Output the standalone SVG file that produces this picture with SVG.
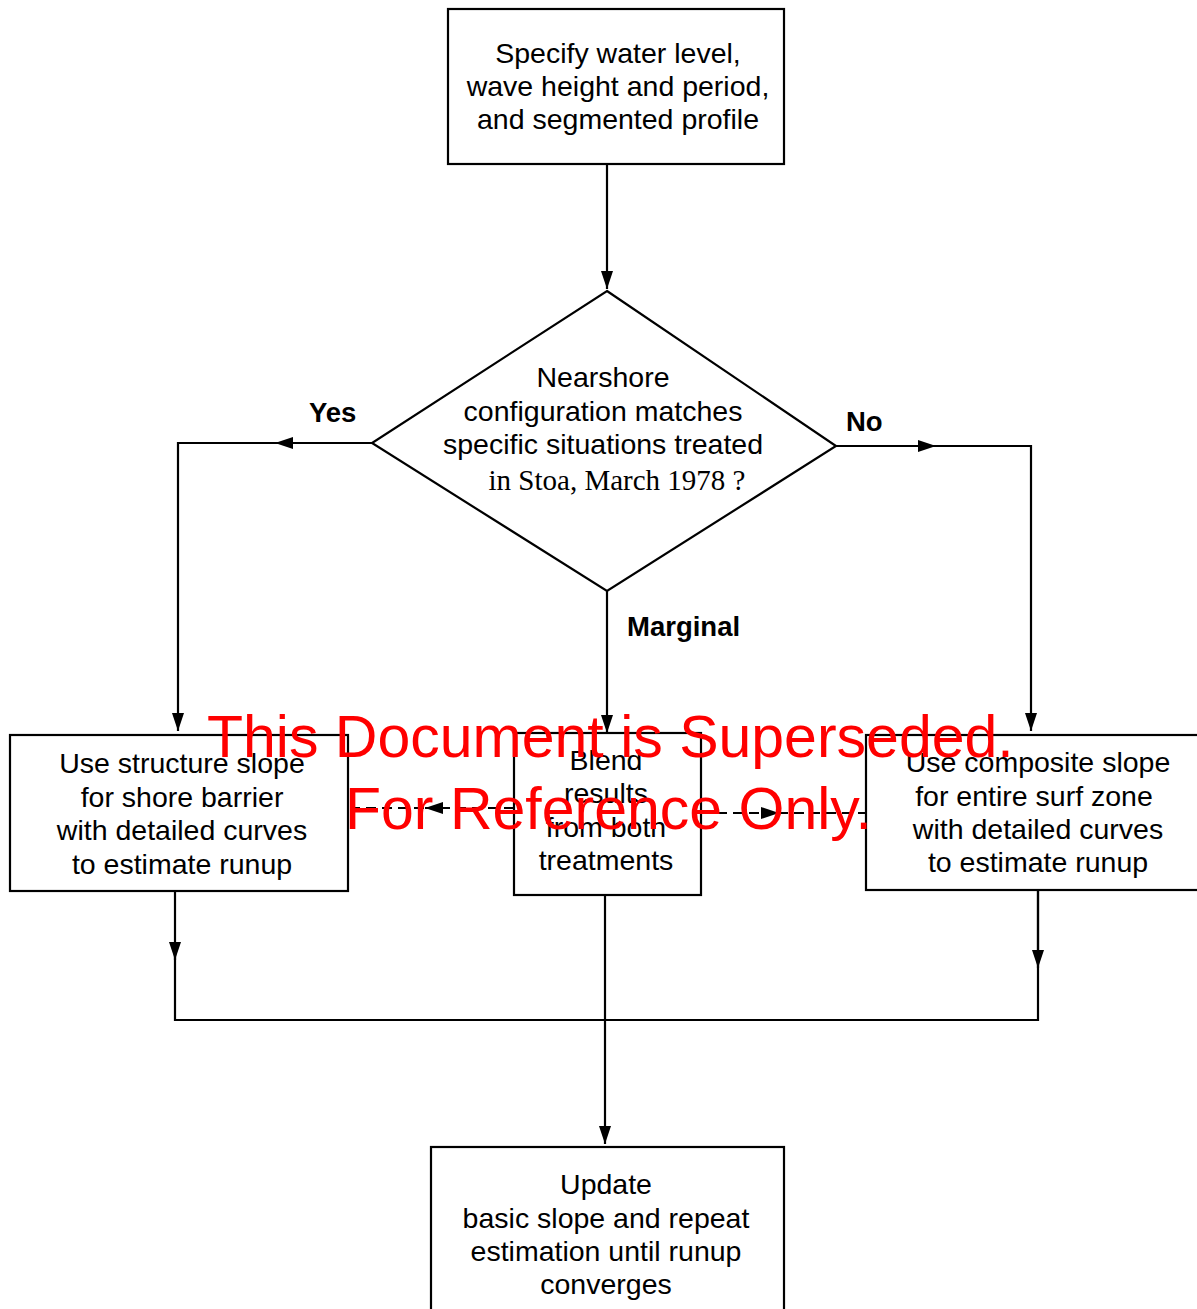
<svg xmlns="http://www.w3.org/2000/svg" width="1197" height="1309" viewBox="0 0 1197 1309">
<style>
.box{fill:#fff;stroke:#000;stroke-width:2.2}
.t{font-family:"Liberation Sans",Arial,sans-serif;font-size:28.5px;fill:#000;text-anchor:middle}
.tm{font-family:"Liberation Serif","Times New Roman",serif;font-size:29px;fill:#000;text-anchor:middle}
.lb{font-family:"Liberation Sans",Arial,sans-serif;font-size:27.5px;font-weight:bold;fill:#000}
.c{fill:none;stroke:#000;stroke-width:2.2}
.d{fill:none;stroke:#000;stroke-width:2.2;stroke-dasharray:10,6}
.wm{font-family:"Liberation Sans",Arial,sans-serif;font-size:59px;fill:#ff0000}
</style>
<defs>
<marker id="ah" viewBox="0 0 18 12" refX="18" refY="6" markerWidth="18" markerHeight="12" orient="auto" markerUnits="userSpaceOnUse"><path d="M0,0 L18,6 L0,12 z" fill="#000"/></marker>
</defs>
<rect width="1197" height="1309" fill="#fff"/>
<g id="connectors">
<path class="c" d="M607,164 V289" marker-end="url(#ah)"/>
<path class="c" d="M372,443 H275" marker-end="url(#ah)"/>
<path class="c" d="M290,443 H178 V731" marker-end="url(#ah)"/>
<path class="c" d="M836,446 H936" marker-end="url(#ah)"/>
<path class="c" d="M920,446 H1031 V731" marker-end="url(#ah)"/>
<path class="c" d="M607,591 V733" marker-end="url(#ah)"/>
<path class="d" d="M514,808 H425" marker-end="url(#ah)"/>
<path class="d" d="M440,808 H348"/>
<path class="d" d="M701,813 H779" marker-end="url(#ah)"/>
<path class="d" d="M762,813 H866"/>
<path class="c" d="M175,891 V960" marker-end="url(#ah)"/>
<path class="c" d="M175,945 V1020 H1038 V891"/>
<path class="c" d="M1038,891 V968" marker-end="url(#ah)"/>
<path class="c" d="M605,895 V1144" marker-end="url(#ah)"/>
</g>
<g id="start">
<rect class="box" x="448" y="9" width="336" height="155"/>
<text class="t" x="618" y="63">Specify water level,</text>
<text class="t" x="618" y="96">wave height and period,</text>
<text class="t" x="618" y="129">and segmented profile</text>
</g>
<g id="decision">
<polygon class="box" points="607,291 836,446 607,591 372,443"/>
<text class="t" x="603" y="387">Nearshore</text>
<text class="t" x="603" y="421">configuration matches</text>
<text class="t" x="603" y="454">specific situations treated</text>
<text class="tm" x="617" y="490">in Stoa, March 1978 ?</text>
</g>
<g id="labels">
<text class="lb" x="309" y="422">Yes</text>
<text class="lb" x="846" y="431">No</text>
<text class="lb" x="627" y="636">Marginal</text>
</g>
<g id="structure">
<rect class="box" x="10" y="735" width="338" height="156"/>
<text class="t" x="182" y="773">Use structure slope</text>
<text class="t" x="182" y="807">for shore barrier</text>
<text class="t" x="182" y="840">with detailed curves</text>
<text class="t" x="182" y="874">to estimate runup</text>
</g>
<g id="blend">
<rect class="box" x="514" y="733" width="187" height="162"/>
<text class="t" x="606" y="770">Blend</text>
<text class="t" x="606" y="803">results</text>
<text class="t" x="606" y="837">from both</text>
<text class="t" x="606" y="870">treatments</text>
</g>
<g id="composite">
<rect class="box" x="866" y="735" width="345" height="155"/>
<text class="t" x="1038" y="772">Use composite slope</text>
<text class="t" x="1034" y="806">for entire surf zone</text>
<text class="t" x="1038" y="839">with detailed curves</text>
<text class="t" x="1038" y="872">to estimate runup</text>
</g>
<g id="update">
<rect class="box" x="431" y="1147" width="353" height="180"/>
<text class="t" x="606" y="1194">Update</text>
<text class="t" x="606" y="1228">basic slope and repeat</text>
<text class="t" x="606" y="1261">estimation until runup</text>
<text class="t" x="606" y="1294">converges</text>
</g>
<g id="watermark">
<text class="wm" x="207" y="757">This Document is Superseded.</text>
<text class="wm" x="345" y="829">For Reference Only.</text>
</g>
</svg>
